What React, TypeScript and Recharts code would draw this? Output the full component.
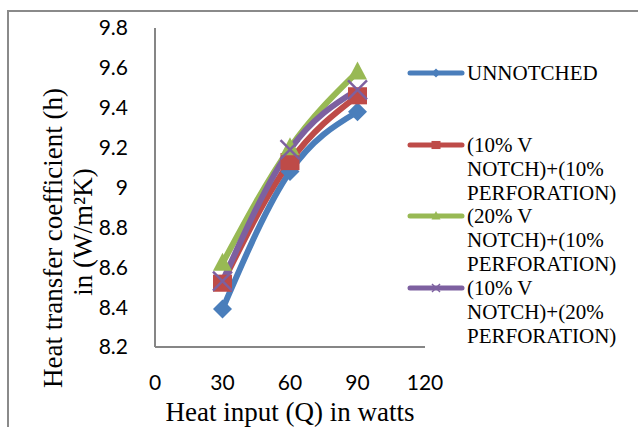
import { LineChart, Line, XAxis, YAxis } from "recharts";

const heatInput = [30, 60, 90];
const unnotched = [8.39, 9.08, 9.38];
const v10p10 = [8.52, 9.13, 9.46];
const v20p10 = [8.62, 9.2, 9.58];
const v10p20 = [8.53, 9.19, 9.49];

const xTicks = [0, 30, 60, 90, 120];
const yTicks = [8.2, 8.4, 8.6, 8.8, 9, 9.2, 9.4, 9.6, 9.8];

const seriesKeys = ["unnotched", "v10p10", "v20p10", "v10p20"];
const seriesNames = [
  "UNNOTCHED",
  "(10% V NOTCH)+(10% PERFORATION)",
  "(20% V NOTCH)+(10% PERFORATION)",
  "(10% V NOTCH)+(20% PERFORATION)",
];
const legendLines = [
  ["UNNOTCHED"],
  ["(10% V", "NOTCH)+(10%", "PERFORATION)"],
  ["(20% V", "NOTCH)+(10%", "PERFORATION)"],
  ["(10% V", "NOTCH)+(20%", "PERFORATION)"],
];
const colors = ["#4A7EBB", "#BE4B48", "#98B954", "#7D60A0"];
const shapes = ["diamond", "square", "triangle", "cross"];

const data = heatInput.map((q, i) => ({
  q,
  unnotched: unnotched[i],
  v10p10: v10p10[i],
  v20p10: v20p10[i],
  v10p20: v10p20[i],
}));

const serif = "'Liberation Serif', 'Times New Roman', serif";
const sans = "Lato, 'Noto Sans', sans-serif";
const axisGray = "#868686";

const Marker = (shape: string, color: string, s: number, cx: number, cy: number, key?: any) => {
  if (shape === "diamond") {
    return (
      <polygon key={key} points={`${cx},${cy - s} ${cx + s},${cy} ${cx},${cy + s} ${cx - s},${cy}`} fill={color} />
    );
  }
  if (shape === "square") {
    return <rect key={key} x={cx - s} y={cy - s * 0.9} width={s * 2} height={s * 1.8} fill={color} />;
  }
  if (shape === "triangle") {
    return (
      <polygon key={key} points={`${cx},${cy - s * 1.1} ${cx + s},${cy + s * 0.8} ${cx - s},${cy + s * 0.8}`} fill={color} />
    );
  }
  return (
    <g key={key} stroke={color} strokeWidth={2.5}>
      <line x1={cx - s} y1={cy - s} x2={cx + s} y2={cy + s} />
      <line x1={cx - s} y1={cy + s} x2={cx + s} y2={cy - s} />
    </g>
  );
};

const makeDot = (i: number) => (props: any) => {
  const { cx, cy, index } = props;
  if (cx == null || cy == null) return <g key={index} />;
  return Marker(shapes[i], colors[i], 9.5, cx, cy, index);
};

// legend drawn as plain html so it does not take room from the plot
const LegendBox = () => (
  <div style={{ position: "absolute", left: 406, top: 61, width: 232, fontFamily: serif, fontSize: 21, color: "#000" }}>
    {seriesNames.map((name, i) => (
      <div key={name} style={{ position: "relative", height: 71.5 }}>
        <svg width={60} height={24} style={{ position: "absolute", left: 0, top: 0 }}>
          <line x1={4} y1={12} x2={56} y2={12} stroke={colors[i]} strokeWidth={5} strokeLinecap="round" />
          {shapes[i] === "cross" ? (
            <g stroke={colors[i]} strokeWidth={1.5}>
              <line x1={26} y1={8} x2={34} y2={16} />
              <line x1={26} y1={16} x2={34} y2={8} />
            </g>
          ) : (
            Marker(shapes[i], colors[i], 4.5, 30, 12)
          )}
        </svg>
        <div style={{ position: "absolute", left: 61, top: 0, lineHeight: "24px", whiteSpace: "nowrap" }}>
          {legendLines[i].map((t) => (
            <div key={t}>{t}</div>
          ))}
        </div>
      </div>
    ))}
  </div>
);

const YTitle = () => (
  <g fontFamily={serif} fontSize={27} fill="#000" textAnchor="middle">
    <text x={53} y={238} dy="0.35em" transform="rotate(-90, 53, 238)">
      Heat transfer coefficient (h)
    </text>
    <text x={83} y={232} dy="0.35em" transform="rotate(-90, 83, 232)">
      in (W/m²K)
    </text>
  </g>
);

const XTitle = (props: any) => {
  const vb = props.viewBox || {};
  return (
    <text x={vb.x + vb.width / 2} y={421} textAnchor="middle" fontFamily={serif} fontSize={27} fill="#000">
      Heat input (Q) in watts
    </text>
  );
};

export default function App() {
  return (
    <div style={{ position: "absolute", left: 0, top: 0, width: 638, height: 427, background: "#fff", overflow: "hidden" }}>
      <div
        style={{
          position: "absolute",
          left: 7,
          top: 10,
          width: 640,
          height: 430,
          borderLeft: "2px solid #8a8a8a",
          borderTop: "2px solid #8a8a8a",
        }}
      />
      <LineChart width={638} height={427} data={data} margin={{ top: 28, right: 213, left: 0, bottom: 0 }}>
        <XAxis
          type="number"
          dataKey="q"
          domain={[0, 120]}
          ticks={xTicks}
          height={80}
          tickLine={false}
          tickSize={0}
          tickMargin={28}
          axisLine={{ stroke: axisGray, strokeWidth: 2 }}
          tick={{ fill: "#000", fontSize: 21, fontFamily: sans }}
          label={<XTitle />}
        />
        <YAxis
          type="number"
          domain={[8.2, 9.8]}
          ticks={yTicks}
          width={155}
          tickLine={false}
          tickSize={0}
          tickMargin={27}
          axisLine={{ stroke: axisGray, strokeWidth: 2 }}
          tick={{ fill: "#000", fontSize: 21, fontFamily: sans }}
          label={<YTitle />}
        />
        {seriesKeys.map((k, i) => (
          <Line
            key={k}
            type="monotone"
            dataKey={k}
            name={seriesNames[i]}
            stroke={colors[i]}
            strokeWidth={6}
            dot={makeDot(i)}
            activeDot={false}
            isAnimationActive={false}
          />
        ))}
      </LineChart>
      <LegendBox />
    </div>
  );
}
